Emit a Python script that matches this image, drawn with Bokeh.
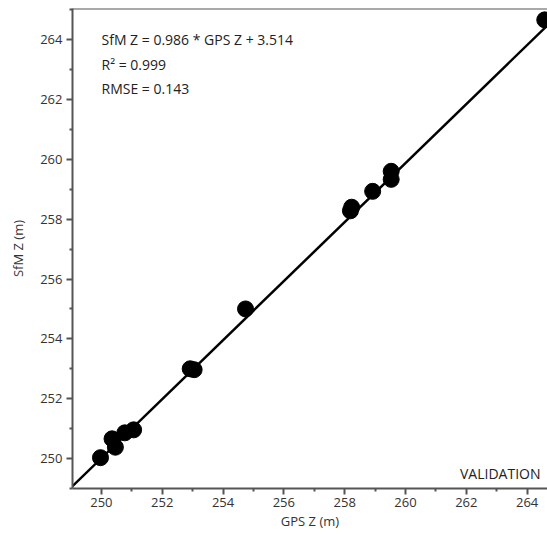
from bokeh.plotting import figure
from bokeh.models import Range1d, FixedTicker, Label, Span, ColumnDataSource
from bokeh.embed import file_html
from bokeh.resources import INLINE

# data
gps_z = [249.97, 250.35, 250.46, 250.77, 251.06, 252.92, 253.05, 254.74,
         258.19, 258.23, 258.92, 259.53, 259.53, 264.58]
sfm_z = [250.03, 250.66, 250.38, 250.86, 250.96, 253.00, 252.97, 255.00,
         258.28, 258.40, 258.93, 259.60, 259.33, 264.66]
slope = 0.986
intercept = 3.514
r2 = 0.999
rmse = 0.143
major_ticks = [250, 252, 254, 256, 258, 260, 262, 264]
minor_ticks = [249, 251, 253, 255, 257, 259, 261, 263, 265]

X0, X1 = 249.05, 264.67
Y0, Y1 = 249.0, 265.04

FONT = "Open Sans"
AX = "#555555"

p = figure(width=547, height=535, output_backend="svg", toolbar_location=None,
           x_range=Range1d(X0, X1), y_range=Range1d(Y0, Y1),
           min_border_left=72, min_border_right=0, min_border_top=8, min_border_bottom=47)
p.outline_line_color = None
p.xgrid.visible = False
p.ygrid.visible = False
p.background_fill_color = "white"
p.border_fill_color = "white"

for ax in (p.xaxis[0], p.yaxis[0]):
    ax.ticker = FixedTicker(ticks=major_ticks, minor_ticks=minor_ticks)
    ax.axis_line_color = AX
    ax.axis_line_width = 2
    ax.major_tick_line_color = AX
    ax.major_tick_line_width = 2
    ax.major_tick_out = 6
    ax.major_tick_in = 0
    ax.minor_tick_line_color = AX
    ax.minor_tick_line_width = 2
    ax.minor_tick_out = 3
    ax.minor_tick_in = 0
    ax.major_label_text_font = FONT
    ax.major_label_text_font_size = "13px"
    ax.major_label_text_color = "#333333"
    ax.axis_label_text_font = FONT
    ax.axis_label_text_font_size = "13px"
    ax.axis_label_text_font_style = "normal"
    ax.axis_label_text_color = "#333333"

p.xaxis.axis_label = "GPS Z (m)"
p.yaxis.axis_label = "SfM Z (m)"
p.xaxis.major_label_standoff = 3
p.xaxis.axis_label_standoff = 2
p.yaxis.major_label_standoff = 4
p.yaxis.axis_label_standoff = 10

# top border
p.add_layout(Span(location=Y1, dimension="width", line_color=AX, line_width=2))

# fit line
fx = [X0, X1]
fy = [slope * v + intercept for v in fx]
p.line(fx, fy, line_color="black", line_width=2.5)

src = ColumnDataSource(dict(x=gps_z, y=sfm_z))
p.scatter("x", "y", source=src, size=16, fill_color="black", line_color="black")

lines = [f"SfM Z = {slope} * GPS Z + {intercept}", f"R\u00b2 = {r2}", f"RMSE = {rmse}"]
for i, t in enumerate(lines):
    p.add_layout(Label(x=29, y=449 - i * 24.5, x_units="screen", y_units="screen", text=t,
                       text_font=FONT, text_font_size="14px", text_color="#222222",
                       text_baseline="middle", text_align="left"))

p.add_layout(Label(x=468, y=15, x_units="screen", y_units="screen", text="VALIDATION",
                   text_font=FONT, text_font_size="14px", text_color="#222222",
                   text_baseline="middle", text_align="right"))

open("out.html", "w").write(file_html(p, INLINE))
